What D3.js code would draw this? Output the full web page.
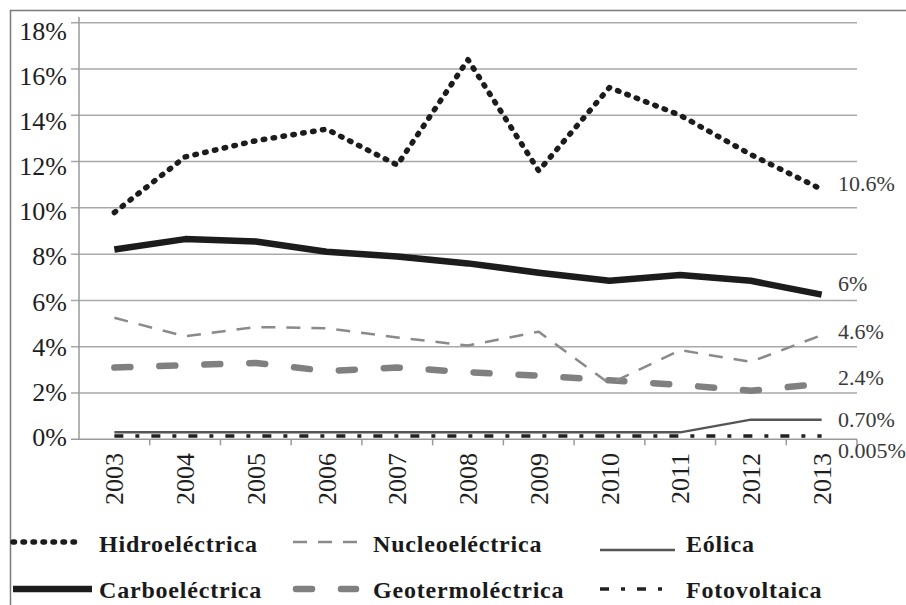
<!DOCTYPE html>
<meta charset="utf-8">
<style>
    body { margin: 0; background: #fff; }
    svg text { font-family: "Liberation Serif", "DejaVu Serif", serif; }
    .frame line { stroke: #7a7a7a; stroke-width: 1.5px; }
    .grid line { stroke: #a9a9a9; stroke-width: 1.5px; }
    .axis path, .axis line { stroke: #9a9a9a; stroke-width: 1.5px; fill: none; }
    .series path { fill: none; }
</style>
<svg width="906" height="605"></svg>
<script src="https://d3js.org/d3.v7.min.js"></script>
<script>

    // data (% share)
    var years = ["2003", "2004", "2005", "2006", "2007", "2008", "2009", "2010", "2011", "2012", "2013"];
    var hidro = [9.8, 12.2, 12.9, 13.4, 11.85, 16.4, 11.6, 15.2, 14.0, 12.3, 10.8];
    var carbo = [8.2, 8.65, 8.55, 8.1, 7.9, 7.6, 7.2, 6.85, 7.1, 6.85, 6.25];
    var nucleo = [5.25, 4.45, 4.85, 4.8, 4.4, 4.05, 4.65, 2.4, 3.85, 3.35, 4.5];
    var geo = [3.1, 3.2, 3.3, 2.95, 3.1, 2.9, 2.75, 2.55, 2.35, 2.1, 2.4];
    var eolica = [0.3, 0.3, 0.3, 0.3, 0.3, 0.3, 0.3, 0.3, 0.3, 0.85, 0.85];
    var foto = [0.14, 0.14, 0.14, 0.14, 0.14, 0.14, 0.14, 0.14, 0.14, 0.14, 0.14];
    var endLabels = ["10.6%", "6%", "4.6%", "2.4%", "0.70%", "0.005%"];
    var yTicks = [0, 2, 4, 6, 8, 10, 12, 14, 16, 18];

    var series = [
        {name: "Hidroeléctrica", values: hidro, color: "#1c1c1c", width: 5.5, dash: "1.5,8.5", cap: "round"},
        {name: "Carboeléctrica", values: carbo, color: "#1c1c1c", width: 6.5, dash: null, cap: "butt"},
        {name: "Nucleoeléctrica", values: nucleo, color: "#8a8a8a", width: 2.5, dash: "14,11", cap: "butt"},
        {name: "Geotermoléctrica", values: geo, color: "#808080", width: 6.5, dash: "16,29", cap: "round"},
        {name: "Eólica", values: eolica, color: "#555555", width: 2.5, dash: null, cap: "butt"},
        {name: "Fotovoltaica", values: foto, color: "#222222", width: 3.5, dash: "9,12,4,12", cap: "butt"}
    ];

    // layout for end labels (pixel shift from the last point) and legend
    var endDy = [-6.5, -11.5, -3.5, -6, 0, 14];
    var legendPos = [
        {x0: 13, x1: 80, ly: 542, tx: 99, ty: 551.5},
        {x0: 13, x1: 92, ly: 589, tx: 99, ty: 598},
        {x0: 293, x1: 362, ly: 542, tx: 373, ty: 551.5},
        {x0: 296, x1: 356, ly: 589, tx: 373, ty: 598},
        {x0: 600, x1: 675, ly: 550, tx: 686, ty: 551.5},
        {x0: 600, x1: 663, ly: 589, tx: 686, ty: 598}
    ];

    var svg = d3.select("svg");
    var plotLeft = 79, plotRight = 857, plotTop = 22.7, plotBottom = 439.3;

    var x = d3.scaleBand().domain(years).range([plotLeft, plotRight]);
    var y = d3.scaleLinear().domain([0, 18]).range([plotBottom, plotTop]);
    // tick text sits a touch off the grid in the original
    var yLab = d3.scaleLinear().domain([0, 18]).range([437, 30.5]);

    // outer frame (cut off at right and bottom)
    var frame = svg.append("g").attr("class", "frame");
    frame.append("line").attr("x1", 10).attr("x2", 906).attr("y1", 10.5).attr("y2", 10.5);
    frame.append("line").attr("x1", 10.5).attr("x2", 10.5).attr("y1", 10).attr("y2", 605);

    // horizontal grid with short outer ticks
    svg.append("g")
        .attr("class", "grid")
        .selectAll("line")
        .data(yTicks.filter(function (d) { return d > 0; }))
        .enter().append("line")
        .attr("x1", plotLeft - 8)
        .attr("x2", plotRight)
        .attr("y1", function (d) { return y(d); })
        .attr("y2", function (d) { return y(d); });

    // y axis line
    svg.append("g").attr("class", "axis")
        .append("line")
        .attr("x1", plotLeft).attr("x2", plotLeft)
        .attr("y1", 17).attr("y2", plotBottom);

    // y tick labels: drawn at 20px and scaled up
    svg.append("g")
        .selectAll("text")
        .data(yTicks)
        .enter().append("text")
        .attr("transform", function (d) {
            return "translate(67," + yLab(d) + ") scale(1.3)";
        })
        .attr("dy", "0.35em")
        .attr("text-anchor", "end")
        .style("font-size", "20px")
        .style("fill", "#1e1e1e")
        .text(function (d) { return d + "%"; });

    // x axis: ticks between categories
    var xAxis = svg.append("g").attr("class", "axis");
    xAxis.append("line")
        .attr("x1", plotLeft - 8).attr("x2", plotRight)
        .attr("y1", plotBottom).attr("y2", plotBottom);
    xAxis.selectAll(".tick")
        .data(years)
        .enter().append("line")
        .attr("x1", function (d) { return x(d) + x.bandwidth(); })
        .attr("x2", function (d) { return x(d) + x.bandwidth(); })
        .attr("y1", plotBottom)
        .attr("y2", plotBottom + 6);

    svg.append("g")
        .selectAll("text")
        .data(years)
        .enter().append("text")
        .attr("transform", function (d) {
            return "translate(" + (x(d) + x.bandwidth() / 2) + "," + 453 + ") rotate(-90)";
        })
        .attr("dy", "0.35em")
        .attr("text-anchor", "end")
        .style("font-size", "26px")
        .style("fill", "#1e1e1e")
        .text(function (d) { return d; });

    // lines
    var line = d3.line()
        .x(function (d, i) { return x(years[i]) + x.bandwidth() / 2; })
        .y(function (d) { return y(d); });

    var g = svg.append("g").attr("class", "series");
    series.slice().reverse().forEach(function (s) {
        g.append("path")
            .datum(s.values)
            .attr("d", line)
            .attr("stroke", s.color)
            .attr("stroke-width", s.width)
            .attr("stroke-dasharray", s.dash)
            .attr("stroke-linecap", s.cap)
            .attr("stroke-linejoin", "round");
    });

    // end-of-line value labels
    svg.append("g")
        .selectAll("text")
        .data(series)
        .enter().append("text")
        .attr("x", 838)
        .attr("y", function (d, i) { return y(d.values[d.values.length - 1]) + endDy[i]; })
        .attr("dy", "0.35em")
        .style("font-size", "22px")
        .style("fill", "#3a3a3a")
        .text(function (d, i) { return endLabels[i]; });

    // legend
    var legend = svg.append("g")
        .selectAll("g")
        .data(series)
        .enter().append("g");

    legend.append("line")
        .attr("x1", function (d, i) { return legendPos[i].x0; })
        .attr("x2", function (d, i) { return legendPos[i].x1; })
        .attr("y1", function (d, i) { return legendPos[i].ly; })
        .attr("y2", function (d, i) { return legendPos[i].ly; })
        .attr("stroke", function (d) { return d.color; })
        .attr("stroke-width", function (d) { return d.width; })
        .attr("stroke-dasharray", function (d) { return d.dash; })
        .attr("stroke-linecap", function (d) { return d.cap; });

    legend.append("text")
        .attr("x", function (d, i) { return legendPos[i].tx; })
        .attr("y", function (d, i) { return legendPos[i].ty; })
        .style("font-size", "24px")
        .style("font-weight", "bold")
        .style("letter-spacing", "0.8px")
        .style("fill", "#1a1a1a")
        .text(function (d) { return d.name; });

</script>
